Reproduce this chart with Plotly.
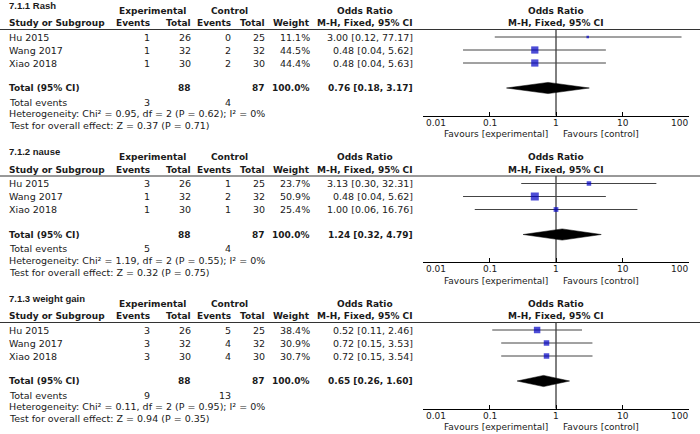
import math
import plotly.graph_objects as go

W, H = 700, 434

# ---------------- data ----------------
titles = ["7.1.1 Rash", "7.1.2 nause", "7.1.3 weight gain"]
studies = ["Hu 2015", "Wang 2017", "Xiao 2018"]
exp_events = [[1, 1, 1], [3, 1, 1], [3, 3, 3]]
exp_total = [[26, 32, 30], [26, 32, 30], [26, 32, 30]]
ctl_events = [[0, 2, 2], [1, 2, 1], [5, 4, 4]]
ctl_total = [[25, 32, 30], [25, 32, 30], [25, 32, 30]]
weights = [[11.1, 44.5, 44.4], [23.7, 50.9, 25.4], [38.4, 30.9, 30.7]]
or_est = [[3.00, 0.48, 0.48], [3.13, 0.48, 1.00], [0.52, 0.72, 0.72]]
or_lo = [[0.12, 0.04, 0.04], [0.30, 0.04, 0.06], [0.11, 0.15, 0.15]]
or_hi = [[77.17, 5.62, 5.63], [32.31, 5.62, 16.76], [2.46, 3.53, 3.54]]
tot_exp = [88, 88, 88]
tot_ctl = [87, 87, 87]
tot_weight = [100.0, 100.0, 100.0]
tot_est = [0.76, 1.24, 0.65]
tot_lo = [0.18, 0.32, 0.26]
tot_hi = [3.17, 4.79, 1.60]
tev_exp = [3, 5, 9]
tev_ctl = [4, 4, 13]
chi2 = [0.95, 1.19, 0.11]
dfree = [2, 2, 2]
p_het = [0.62, 0.55, 0.95]
i2 = [0, 0, 0]
z_val = [0.37, 0.32, 0.94]
p_z = [0.71, 0.75, 0.35]
tick_vals = [0.01, 0.1, 1, 10, 100]
tick_text = ["0.01", "0.1", "1", "10", "100"]

# ---------------- layout constants ----------------
PANEL_TOP = [0, 146.5, 293]
Y_TITLE, Y_H1, Y_H2, Y_RULE = 5, 10.5, 23, 29.5
Y_ROWS = [37, 50, 63]
Y_TOTAL, Y_TEV, Y_HET, Y_TEST = 88, 102, 113.5, 125.5
Y_AXIS, Y_TICKLAB, Y_FAV = 115.5, 122.5, 134
X_NAME, X_EE, X_ET, X_CE, X_CT, X_W, X_OR = 7, 152, 193, 233, 267, 312, 415
FX0, FX1 = 423, 689

FONT = "DejaVu Sans"
TXT = "#1a1a1a"
FS = 9.5
FSB = 9
BLUE = "#0000c4"

fig = go.Figure()
ann = []


def text(x, y, s, anchor="left", bold=False, size=None, xref="x", family=FONT, xshift=0):
    if bold:
        s = "<b>" + s + "</b>"
    ann.append(dict(x=x, y=y, xref=xref, yref="y", text=s, showarrow=False,
                    xanchor=anchor, yanchor="middle", xshift=xshift,
                    font=dict(family=family, size=size or (FSB if bold else FS), color=TXT)))


def fmt_or(e, l, h):
    return f"{e:.2f} [{l:.2f}, {h:.2f}]"


shapes = []
for k in range(3):
    P = PANEL_TOP[k]
    xa = f"x{k + 2}"
    # titles & headers
    text(X_NAME, P + Y_TITLE, titles[k], bold=True, size=9.5, family="Liberation Sans")
    text((120 + 185) / 2, P + Y_H1, "Experimental", anchor="center", bold=True)
    text(229, P + Y_H1, "Control", anchor="center", bold=True)
    text(365, P + Y_H1, "Odds Ratio", anchor="center", bold=True)
    text(0, P + Y_H1, "Odds Ratio", anchor="center", bold=True, xref=xa)
    text(X_NAME, P + Y_H2, "Study or Subgroup", bold=True)
    text(X_EE, P + Y_H2, "Events", anchor="right", bold=True)
    text(X_ET, P + Y_H2, "Total", anchor="right", bold=True)
    text(X_CE, P + Y_H2, "Events", anchor="right", bold=True)
    text(X_CT, P + Y_H2, "Total", anchor="right", bold=True)
    text(X_W, P + Y_H2, "Weight", anchor="right", bold=True)
    text(X_OR, P + Y_H2, "M-H, Fixed, 95% CI", anchor="right", bold=True)
    text(0, P + Y_H2, "M-H, Fixed, 95% CI", anchor="center", bold=True, xref=xa)
    shapes.append(dict(type="line", xref="x", yref="y", x0=0, x1=W,
                       y0=P + Y_RULE, y1=P + Y_RULE, line=dict(color="#333", width=1)))

    # study rows
    for i, name in enumerate(studies):
        y = P + Y_ROWS[i]
        text(X_NAME, y, name)
        text(X_EE, y, str(exp_events[k][i]), anchor="right")
        text(X_ET, y, str(exp_total[k][i]), anchor="right")
        text(X_CE, y, str(ctl_events[k][i]), anchor="right")
        text(X_CT, y, str(ctl_total[k][i]), anchor="right")
        text(X_W, y, f"{weights[k][i]:.1f}%", anchor="right")
        text(X_OR, y, fmt_or(or_est[k][i], or_lo[k][i], or_hi[k][i]), anchor="right")

    # total rows
    yt = P + Y_TOTAL
    text(X_NAME, yt, "Total (95% CI)", bold=True)
    text(X_ET, yt, str(tot_exp[k]), anchor="right", bold=True)
    text(X_CT, yt, str(tot_ctl[k]), anchor="right", bold=True)
    text(X_W, yt, f"{tot_weight[k]:.1f}%", anchor="right", bold=True)
    text(X_OR, yt, fmt_or(tot_est[k], tot_lo[k], tot_hi[k]), anchor="right", bold=True)
    text(X_NAME, P + Y_TEV, "Total events")
    text(X_EE, P + Y_TEV, str(tev_exp[k]), anchor="right")
    text(X_CE, P + Y_TEV, str(tev_ctl[k]), anchor="right")
    text(X_NAME, P + Y_HET,
         f"Heterogeneity: Chi² = {chi2[k]:.2f}, df = {dfree[k]} (P = {p_het[k]:.2f}); I² = {i2[k]}%")
    text(X_NAME, P + Y_TEST, f"Test for overall effect: Z = {z_val[k]:.2f} (P = {p_z[k]:.2f})")

    # axis tick labels (ends kept inside the scale, as in the original)
    for j, (tv, tt) in enumerate(zip(tick_vals, tick_text)):
        if j == 0:
            anc, sh = "left", 1
        elif j == len(tick_vals) - 1:
            anc, sh = "right", 1
        else:
            anc, sh = "center", 0
        text(math.log10(tv), P + Y_TICKLAB, tt, anchor=anc, xref=xa, xshift=sh, size=9)

    # favours labels
    text(0, P + Y_FAV, "Favours [experimental]", anchor="right", xref=xa, xshift=-6, size=9)
    text(0, P + Y_FAV, "Favours [control]", anchor="left", xref=xa, xshift=5, size=9)

    # forest: vertical line of no effect
    fig.add_trace(go.Scatter(x=[1, 1], y=[P + Y_RULE, P + Y_AXIS], xaxis=xa, yaxis="y",
                             mode="lines", line=dict(color="black", width=1)))
    # CI lines
    cx, cy = [], []
    for i in range(3):
        cx += [or_lo[k][i], or_hi[k][i], None]
        cy += [P + Y_ROWS[i], P + Y_ROWS[i], None]
    fig.add_trace(go.Scatter(x=cx, y=cy, xaxis=xa, yaxis="y", mode="lines",
                             line=dict(color="#444", width=1)))
    # squares sized by weight
    sizes = [max(2.5, 0.42 * w ** 0.75) for w in weights[k]]
    fig.add_trace(go.Scatter(x=or_est[k], y=[P + yy for yy in Y_ROWS], xaxis=xa, yaxis="y",
                             mode="markers",
                             marker=dict(symbol="square", size=sizes, color=BLUE,
                                         line=dict(width=0))))
    # diamond
    hh = 5.6
    fig.add_trace(go.Scatter(x=[tot_lo[k], tot_est[k], tot_hi[k], tot_est[k], tot_lo[k]],
                             y=[yt, yt - hh, yt, yt + hh, yt], xaxis=xa, yaxis="y",
                             mode="lines", fill="toself", fillcolor="black",
                             line=dict(color="black", width=0.5)))

layout = dict(
    width=W, height=H, margin=dict(l=0, r=0, t=0, b=0),
    paper_bgcolor="white", plot_bgcolor="rgba(0,0,0,0)", showlegend=False, hovermode=False,
    xaxis=dict(range=[0, W], visible=False, domain=[0, 1]),
    yaxis=dict(range=[H, 0], visible=False, domain=[0, 1]),
    annotations=ann, shapes=shapes,
)
for k in range(3):
    layout[f"xaxis{k + 2}"] = dict(
        type="log", range=[-2, 2], domain=[FX0 / W, FX1 / W], anchor="free",
        position=1 - (PANEL_TOP[k] + Y_AXIS) / H,
        showline=True, linecolor="black", linewidth=1, ticks="inside", ticklen=4,
        tickcolor="black", tickvals=tick_vals, showticklabels=False,
        showgrid=False, zeroline=False,
    )
fig.update_layout(**layout)
fig.write_html("out.html", config={"displayModeBar": False},
               post_script="document.body.style.margin='0';document.body.style.overflow='hidden';")
